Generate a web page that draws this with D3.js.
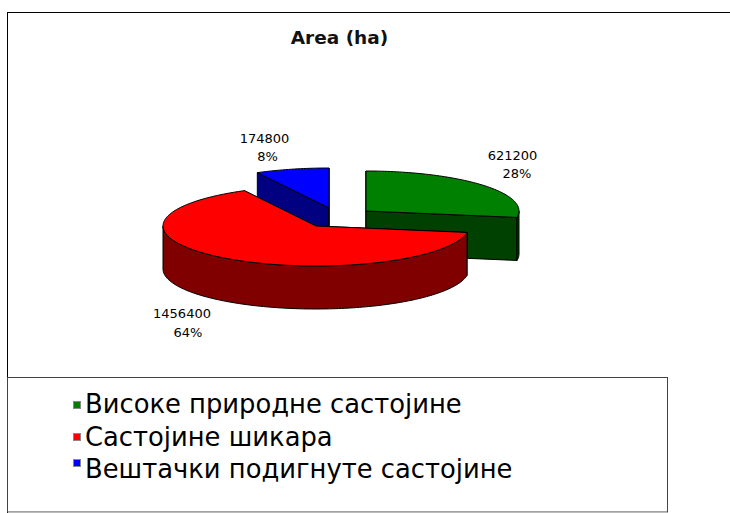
<!DOCTYPE html>
<meta charset="utf-8">
<head>
<style>
html, body { margin: 0; background: #fff; }
svg { display: block; }
text { font-family: "DejaVu Sans", sans-serif; fill: #000; }
.title { font-size: 18.5px; font-weight: bold; text-anchor: middle; fill: #111; }
.label { font-size: 13px; text-anchor: middle; fill: #222; }
.legend text { font-size: 25.8px; }
.top, .wall { stroke: #000; stroke-width: 1; stroke-linejoin: round; }
</style>
</head>
<body>

<svg width="730" height="513"></svg>
<script src="https://cdn.jsdelivr.net/npm/d3@7"></script>
<script>

var chartTitle = "Area (ha)";
var categories = ["Високе природне састојине", "Састојине шикара", "Вештачки подигнуте састојине"];
var values = [621200, 1456400, 174800];
var percentLabels = ["28%", "64%", "8%"];
var topColors = ["#008000", "#ff0000", "#0000ff"];
var wallColors = ["#004000", "#800000", "#000080"];

var centers = [[366, 211], [316, 226], [329, 208]];
var valueSpots = [[512.5, 160], [182, 318], [264.5, 143]];
var percentSpots = [[517, 178], [188, 337], [267.5, 161]];
var swatchY = [401.5, 433.5, 459.5];
var legendY = [413, 446, 478];

var svg = d3.select("svg");
var rx = 153, ry = 40, depth = 43;

// unit circle -> flattened pie
var sx = d3.scaleLinear().domain([-1, 1]).range([-rx, rx]),
    sy = d3.scaleLinear().domain([-1, 1]).range([-ry, ry]);

function rim(c, t) { return [c[0] + sx(Math.sin(t)), c[1] + sy(-Math.cos(t))]; }
function down(p) { return [p[0], p[1] + depth]; }

var line = d3.line();

svg.append("rect")
    .attr("x", 7.5).attr("y", 12.5)
    .attr("width", 740).attr("height", 520)
    .attr("fill", "#fff").attr("stroke", "#000");

svg.append("text")
    .attr("class", "title")
    .attr("x", 339.5).attr("y", 44)
    .text(chartTitle);

var slices = d3.pie().sort(null)(values).map(function(d, i) {
  d.center = centers[i];
  d.i = i;
  return d;
});

// walls first, drawn back to front, red on top because it sits nearest
var order = [2, 0, 1];

order.forEach(function(i) {
  var d = slices[i], c = d.center;
  var g = svg.append("g");

  [d.startAngle, d.endAngle].forEach(function(t) {
    var p = rim(c, t);
    g.append("path")
        .attr("class", "wall")
        .attr("fill", wallColors[i])
        .attr("d", line([c, p, down(p), down(c)]) + "Z");
  });

  // outer wall, only the part that faces the viewer
  var a0 = Math.max(d.startAngle, Math.PI / 2),
      a1 = Math.min(d.endAngle, Math.PI * 3 / 2);
  if (a1 > a0) {
    var ts = d3.range(a0, a1, 0.02).concat([a1]);
    var upper = ts.map(function(t) { return rim(c, t); });
    g.append("path")
        .attr("class", "wall")
        .attr("fill", wallColors[i])
        .attr("d", line(upper.concat(upper.map(down).reverse())) + "Z");
  }

  var tsTop = d3.range(d.startAngle, d.endAngle, 0.02).concat([d.endAngle]);
  g.append("path")
      .attr("class", "top")
      .attr("fill", topColors[i])
      .attr("d", line([c].concat(tsTop.map(function(t) { return rim(c, t); }))) + "Z");
});

var label = svg.selectAll(".label")
    .data(slices)
  .enter().append("g")
    .attr("class", "label");

label.append("text")
    .attr("transform", function(d) { return "translate(" + valueSpots[d.i] + ")"; })
    .text(function(d) { return d.value; });

label.append("text")
    .attr("transform", function(d) { return "translate(" + percentSpots[d.i] + ")"; })
    .text(function(d) { return percentLabels[d.i]; });

var legend = svg.append("g").attr("class", "legend");

legend.append("rect")
    .attr("x", 7.5).attr("y", 377.5)
    .attr("width", 660).attr("height", 134.5)
    .attr("fill", "#fff").attr("stroke", "#444");

legend.append("line")
    .attr("x1", 8).attr("x2", 667).attr("y1", 512.5).attr("y2", 512.5)
    .attr("stroke", "#bbb");

var row = legend.selectAll(".row")
    .data(categories)
  .enter().append("g")
    .attr("class", "row");

row.append("rect")
    .attr("x", 73.5).attr("y", function(d, i) { return swatchY[i]; })
    .attr("width", 7).attr("height", 7)
    .attr("fill", function(d, i) { return topColors[i]; })
    .attr("stroke", "#888");

row.append("text")
    .attr("x", 85).attr("y", function(d, i) { return legendY[i]; })
    .text(function(d) { return d; });

</script>
</body>
